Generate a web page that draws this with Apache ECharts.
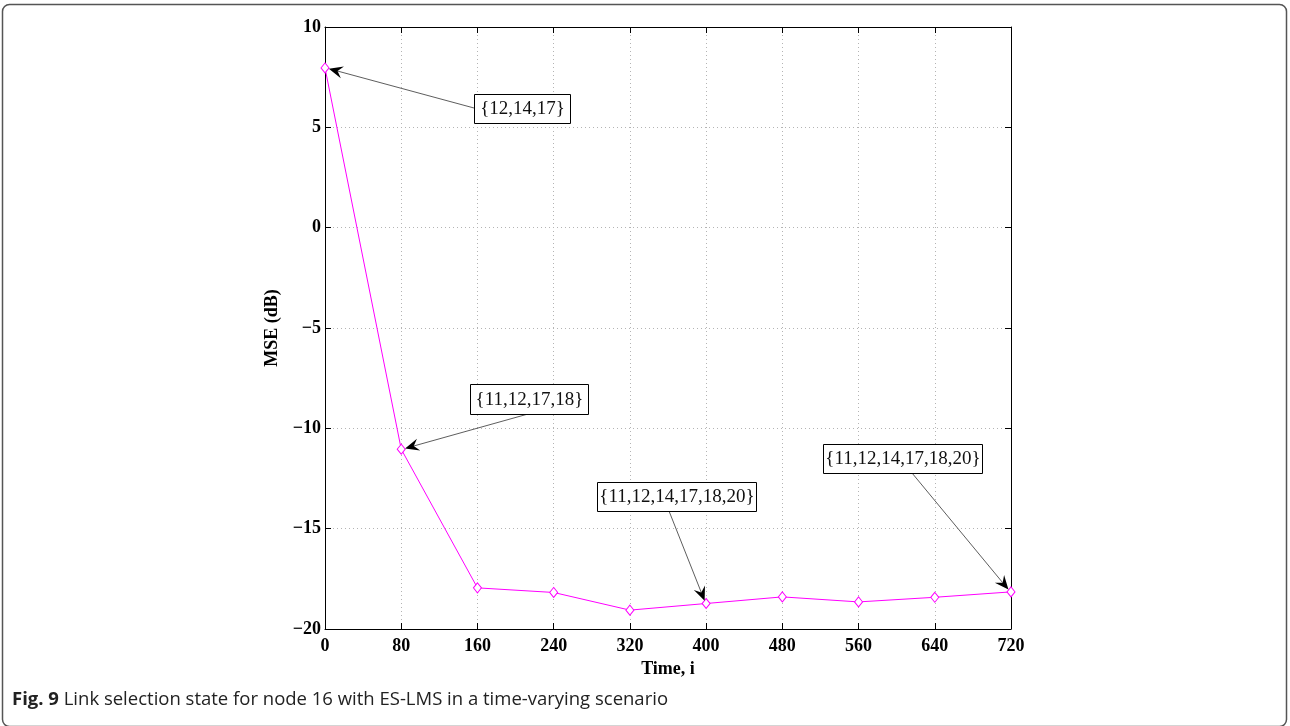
<!DOCTYPE html>
<html>
<head>
<meta charset="utf-8">
<script src="https://cdn.jsdelivr.net/npm/echarts@6/dist/echarts.min.js"></script>
<style>
html,body{margin:0;padding:0;background:#fff;}
#main{width:1290px;height:726px;}
</style>
</head>
<body>
<div id="main"></div>
<script>
// ---- data ----
const timeSteps = [0, 80, 160, 240, 320, 400, 480, 560, 640, 720];
const mseValues = [7.96, -11.04, -17.95, -18.18, -19.06, -18.73, -18.4, -18.65, -18.42, -18.15];
const xTicks = [0, 80, 160, 240, 320, 400, 480, 560, 640, 720];
const yTicks = [-20, -15, -10, -5, 0, 5, 10];
const annoLabels = ['{12,14,17}', '{11,12,17,18}', '{11,12,14,17,18,20}', '{11,12,14,17,18,20}'];
const annoPointIndex = [0, 1, 5, 9];
const caption = ['Fig. 9', ' Link selection state for node 16 with ES-LMS in a time-varying scenario'];

// ---- layout (box positions in pixels: left, top, width, height; arrow start on box) ----
const annoBoxes = [
  {x: 474, y: 94, w: 96, h: 29, ax: 474, ay: 108},
  {x: 470, y: 384, w: 118, h: 30, ax: 528, ay: 414},
  {x: 597, y: 482, w: 159, h: 29, ax: 669, ay: 511},
  {x: 823, y: 444, w: 159, h: 29, ax: 912, ay: 473}
];

const chart = echarts.init(document.getElementById('main'));
const serif = '"Liberation Serif","Times New Roman",serif';
const gridLine = {show: true, lineStyle: {color: '#b4b4b4', width: 1, type: [1, 3]}};
const axisBlack = {show: true, onZero: false, lineStyle: {color: '#000', width: 1}};

const option = {
  animation: false,
  backgroundColor: '#fff',
  grid: {left: 325, top: 27, right: 279, bottom: 97, show: false},
  xAxis: [{
    type: 'value', min: 0, max: 720, interval: 80,
    axisLine: axisBlack,
    axisTick: {show: true, inside: true, length: 6, lineStyle: {color: '#000'}},
    axisLabel: {color: '#000', fontFamily: serif, fontWeight: 'bold', fontSize: 18, margin: 8,
      formatter: v => xTicks.includes(v) ? String(v) : ''},
    splitLine: gridLine,
    name: 'Time, i', nameLocation: 'middle', nameGap: 27,
    nameTextStyle: {color: '#000', fontFamily: serif, fontWeight: 'bold', fontSize: 18}
  }, {
    type: 'value', min: 0, max: 720, interval: 80, position: 'top',
    axisLine: axisBlack,
    axisTick: {show: true, inside: true, length: 6, lineStyle: {color: '#000'}},
    axisLabel: {show: false}, splitLine: {show: false}
  }],
  yAxis: [{
    type: 'value', min: -20, max: 10, interval: 5,
    axisLine: axisBlack,
    axisTick: {show: true, inside: true, length: 6, lineStyle: {color: '#000'}},
    axisLabel: {color: '#000', fontFamily: serif, fontWeight: 'bold', fontSize: 18, margin: 4,
      formatter: v => yTicks.includes(v) ? String(v).replace('-', '\u2212') : ''},
    splitLine: gridLine,
    name: 'MSE (dB)', nameLocation: 'middle', nameGap: 43, nameRotate: 90,
    nameTextStyle: {color: '#000', fontFamily: serif, fontWeight: 'bold', fontSize: 18}
  }, {
    type: 'value', min: -20, max: 10, interval: 5, position: 'right',
    axisLine: axisBlack,
    axisTick: {show: true, inside: true, length: 6, lineStyle: {color: '#000'}},
    axisLabel: {show: false}, splitLine: {show: false}
  }],
  series: [{
    type: 'line',
    data: timeSteps.map((t, i) => [t, mseValues[i]]),
    xAxisIndex: 0, yAxisIndex: 0,
    lineStyle: {color: '#ff00ff', width: 1},
    itemStyle: {color: '#fff', borderColor: '#ff00ff', borderWidth: 1},
    symbol: 'diamond', symbolSize: [8, 10], showSymbol: true,
    z: 5
  }]
};
chart.setOption(option);

// ---- annotations and frame ----
const graphics = [];
graphics.push({
  type: 'rect', shape: {x: 2.5, y: 4.5, width: 1284, height: 722, r: 7},
  style: {fill: null, stroke: '#555', lineWidth: 1.5}, silent: true, z: 0
});
annoLabels.forEach((lab, k) => {
  const i = annoPointIndex[k];
  const p = chart.convertToPixel({gridIndex: 0}, [timeSteps[i], mseValues[i]]);
  const b = annoBoxes[k];
  const dx = p[0] - b.ax, dy = p[1] - b.ay;
  const len = Math.sqrt(dx * dx + dy * dy);
  const ux = dx / len, uy = dy / len;
  const tipX = p[0] - ux * 4, tipY = p[1] - uy * 3;
  const hl = 14, hw = 6, notch = 9;
  const bx = tipX - ux * hl, by = tipY - uy * hl;
  const nx = tipX - ux * notch, ny = tipY - uy * notch;
  graphics.push({
    type: 'line', shape: {x1: b.ax, y1: b.ay, x2: nx, y2: ny},
    style: {stroke: '#333', lineWidth: 0.8}, silent: true, z: 20
  });
  graphics.push({
    type: 'polygon',
    shape: {points: [[tipX, tipY], [bx - uy * hw, by + ux * hw], [nx, ny], [bx + uy * hw, by - ux * hw]]},
    style: {fill: '#000'}, silent: true, z: 21
  });
  graphics.push({
    type: 'rect', shape: {x: b.x + 0.5, y: b.y + 0.5, width: b.w, height: b.h},
    style: {fill: '#fff', stroke: '#000', lineWidth: 1}, silent: true, z: 22
  });
  graphics.push({
    type: 'text', x: b.x + b.w / 2 + 0.5, y: b.y + b.h / 2 + 1,
    style: {text: lab, fontFamily: serif, fontSize: 19, fill: '#111', align: 'center', verticalAlign: 'middle'},
    silent: true, z: 23
  });
});
graphics.push({
  type: 'text', x: 12, y: 700,
  style: {
    text: '{b|' + caption[0] + '}{n|' + caption[1] + '}',
    rich: {
      b: {fontFamily: '"Open Sans","Noto Sans",sans-serif', fontWeight: 'bold', fontSize: 18.5, fill: '#222'},
      n: {fontFamily: '"Open Sans","Noto Sans",sans-serif', fontSize: 18.5, fill: '#222'}
    },
    verticalAlign: 'middle'
  },
  silent: true, z: 30
});
chart.setOption({graphic: graphics});
</script>
</body>
</html>
